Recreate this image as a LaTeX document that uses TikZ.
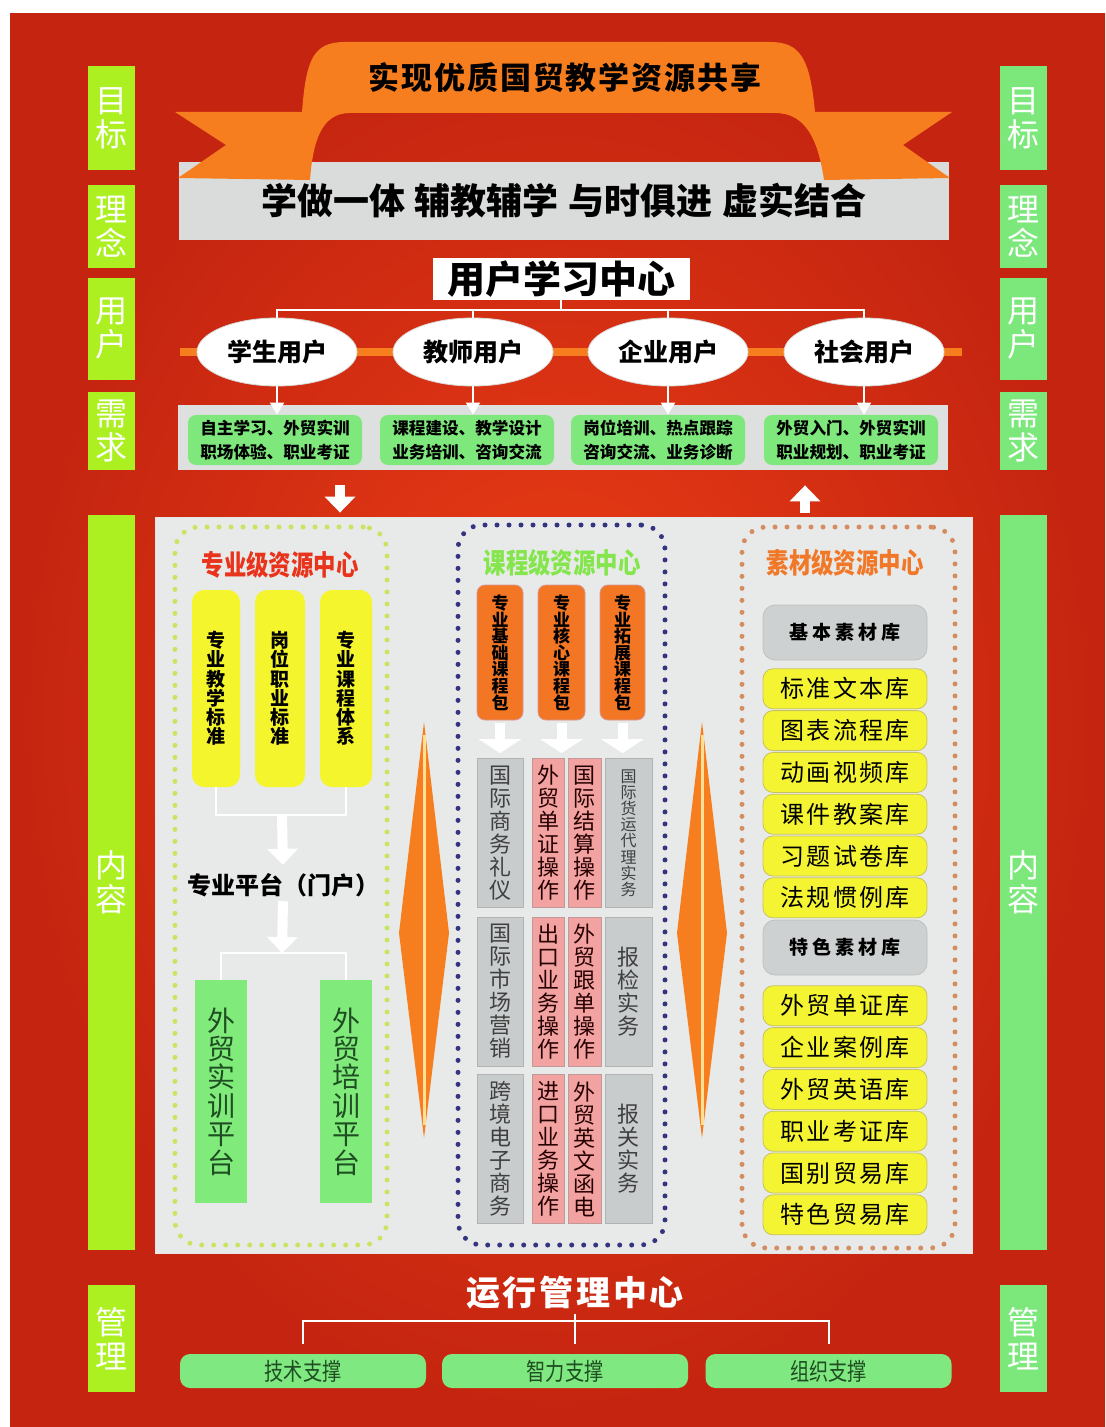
\documentclass[tikz,border=0pt]{standalone}
\usepackage{fontspec}
\setmainfont{Noto Sans CJK SC}
\newfontfamily\narrowfont[FakeStretch=0.8]{Noto Sans CJK SC}
\usepackage{xcolor}
\usepackage{tikz}
\usetikzlibrary{arrows.meta,positioning,shapes.geometric}
\definecolor{bgout}{RGB}{196,36,16}
\definecolor{bgin}{RGB}{236,62,22}
\definecolor{sidegreenL}{RGB}{172,240,34}
\definecolor{sidegreenR}{RGB}{124,232,124}
\definecolor{ribbonorange}{RGB}{246,126,30}
\definecolor{spindlecream}{RGB}{255,222,150}
\definecolor{mottogray}{RGB}{218,220,220}
\definecolor{needgreen}{RGB}{126,232,124}
\definecolor{panelgray}{RGB}{222,224,224}
\definecolor{contentgray}{RGB}{232,234,233}
\definecolor{stdyellow}{RGB}{245,245,45}
\definecolor{traingreen}{RGB}{128,234,122}
\definecolor{pkgorange}{RGB}{242,118,36}
\definecolor{cellgray}{RGB}{200,204,204}
\definecolor{cellpink}{RGB}{242,162,160}
\definecolor{libyellow}{RGB}{244,244,50}
\definecolor{libgray}{RGB}{206,209,209}
\definecolor{dotlime}{RGB}{200,228,96}
\definecolor{dotnavy}{RGB}{52,52,128}
\definecolor{dotbrown}{RGB}{212,140,96}
\definecolor{titlered}{RGB}{232,52,28}
\definecolor{titlegreen}{RGB}{132,230,76}
\definecolor{titleorange}{RGB}{240,120,40}
\definecolor{darkgreen}{RGB}{30,78,34}
\definecolor{supportgreen}{RGB}{128,232,128}
\tikzset{
  sidebar/.style={
    rectangle,
    minimum width=23.5pt,
    inner sep=0pt,
    align=center,
    text=white,
    font=\fontsize{16}{17}\selectfont
  },
  leftbar/.style={sidebar, fill=sidegreenL},
  rightbar/.style={sidebar, fill=sidegreenR},
  mottobox/.style={
    rectangle,
    fill=mottogray,
    minimum width=385pt,
    minimum height=39pt,
    inner sep=0pt,
    font=\fontsize{18}{20}\selectfont\bfseries
  },
  goaltext/.style={
    font=\fontsize{15.5}{17}\selectfont\bfseries\addfontfeature{LetterSpace=6}
  },
  ucbox/.style={
    rectangle,
    fill=white,
    minimum width=128.5pt,
    minimum height=21pt,
    inner sep=0pt,
    font=\fontsize{19}{20}\selectfont\bfseries
  },
  userellipse/.style={
    ellipse,
    fill=white,
    draw=black!15,
    minimum width=80pt,
    minimum height=34pt,
    inner sep=0pt,
    font=\fontsize{12.5}{14}\selectfont\bfseries
  },
  needpanel/.style={
    rectangle,
    fill=panelgray,
    minimum width=385pt,
    minimum height=32.5pt,
    inner sep=0pt
  },
  needbox/.style={
    rectangle,
    rounded corners=4pt,
    fill=needgreen,
    minimum width=87pt,
    minimum height=25pt,
    inner sep=0pt,
    align=center,
    font=\fontsize{8.3}{12}\selectfont\bfseries
  },
  contentpanel/.style={
    rectangle,
    fill=contentgray,
    draw=white!90!black,
    minimum width=408.5pt,
    minimum height=368pt,
    inner sep=0pt
  },
  treeline/.style={draw=white, line width=1pt},
  thinarrow/.style={draw=white, line width=1pt, -{Triangle[length=6pt,width=7pt]}},
  fatarrow/.style={draw=white, line width=5pt, -{Triangle[length=8pt,width=15pt]}},
  pkgarrow/.style={draw=white, line width=5pt, -{Triangle[length=7pt,width=21pt]}},
  groupbox/.style={
    rectangle,
    rounded corners=12pt,
    line width=2.5pt,
    dash pattern=on 0pt off 6pt,
    line cap=round,
    inner sep=0pt
  },
  grouptitle/.style={font=\narrowfont\fontsize{14}{16}\selectfont\bfseries},
  stdbar/.style={
    rectangle,
    rounded corners=6pt,
    fill=stdyellow,
    minimum height=98.5pt,
    inner sep=0pt,
    align=center,
    font=\fontsize{9.5}{9.6}\selectfont\bfseries
  },
  portaltext/.style={inner sep=2pt, font=\fontsize{12}{14}\selectfont\bfseries},
  trainbar/.style={
    rectangle,
    fill=traingreen,
    minimum width=26pt,
    minimum height=111.5pt,
    inner sep=0pt,
    align=center,
    text=darkgreen,
    font=\fontsize{14}{14.2}\selectfont
  },
  pkgbar/.style={
    rectangle,
    rounded corners=4pt,
    fill=pkgorange,
    draw=red!60!black!40,
    minimum height=67.5pt,
    inner sep=0pt,
    align=center,
    font=\fontsize{8.5}{8.3}\selectfont\bfseries
  },
  graycell/.style={
    rectangle,
    fill=cellgray,
    draw=black!30,
    minimum width=23.5pt,
    minimum height=74.5pt,
    inner sep=0pt,
    align=center,
    text=black!75,
    font=\fontsize{11}{11.5}\selectfont
  },
  pinkcell/.style={graycell, fill=cellpink, draw=red!40!black!40, minimum width=16.5pt, text=black!85!red},
  libhead/.style={
    rectangle,
    rounded corners=6pt,
    fill=libgray,
    draw=black!25,
    minimum width=82pt,
    minimum height=27.5pt,
    inner sep=0pt,
    font=\fontsize{9.5}{11}\selectfont\bfseries\addfontfeature{LetterSpace=20}
  },
  libitem/.style={
    rectangle,
    rounded corners=5pt,
    fill=libyellow,
    draw=olive!50,
    minimum width=82pt,
    minimum height=20pt,
    inner sep=0pt,
    font=\fontsize{12}{13}\selectfont\addfontfeature{LetterSpace=10}
  },
  mgmttext/.style={
    text=white,
    inner sep=2pt,
    font=\fontsize{17}{19}\selectfont\bfseries\addfontfeature{LetterSpace=8}
  },
  supportbox/.style={
    rectangle,
    rounded corners=5pt,
    fill=supportgreen,
    minimum width=123pt,
    minimum height=17pt,
    inner sep=0pt,
    text=darkgreen,
    font=\narrowfont\fontsize{12}{13}\selectfont
  }
}

\begin{document}
\begin{tikzpicture}[x=0.5pt, y=-0.5pt]
\useasboundingbox (0,0) rectangle (1105,1427);
\fill[white] (0,0) rectangle (1105,1427);
\shade[inner color=bgin, outer color=bgout] (10,14) rectangle (1105,1427);

% side labels
\node[leftbar, minimum height=52pt] (goalL) at (111.5,118) {目\\标};
\node[leftbar, minimum height=41.5pt] (ideaL) at (111.5,226.5) {理\\念};
\node[leftbar, minimum height=51pt] (userL) at (111.5,329) {用\\户};
\node[leftbar, minimum height=39pt] (needL) at (111.5,431) {需\\求};
\node[leftbar, minimum height=367.5pt] (contL) at (111.5,882.5) {内\\容};
\node[leftbar, minimum height=53.5pt] (mgmtL) at (111.5,1338.5) {管\\理};
\node[rightbar, minimum height=52pt] (goalR) at (1023.5,118) {目\\标};
\node[rightbar, minimum height=41.5pt] (ideaR) at (1023.5,226.5) {理\\念};
\node[rightbar, minimum height=51pt] (userR) at (1023.5,329) {用\\户};
\node[rightbar, minimum height=39pt] (needR) at (1023.5,431) {需\\求};
\node[rightbar, minimum height=367.5pt] (contR) at (1023.5,882.5) {内\\容};
\node[rightbar, minimum height=53.5pt] (mgmtR) at (1023.5,1338.5) {管\\理};

% goal ribbon and motto
\node[mottobox] (motto) at (564,201) {学做一体\hskip5pt 辅教辅学\hskip5pt 与时俱进\hskip5pt 虚实结合};
\fill[ribbonorange] (175,112) -- (302,112) .. controls (306,58) and (314,42) .. (345,42)
  -- (770,42) .. controls (800,42) and (810,58) .. (815,112) -- (952,112) -- (903,145)
  -- (950,178) -- (824,180) .. controls (818,140) and (806,113) .. (775,113)
  -- (350,113) .. controls (322,113) and (313,140) .. (310,180) -- (178,178) -- (226,145) -- cycle;
\node[goaltext] (goal) at (565,78) {实现优质国贸教学资源共享};

% users
\node[ucbox] (uc) at (561,279) {用户学习中心};
\coordinate (uhub) at (561,310);
\fill[ribbonorange] (180,348) rectangle (962,356);
\node[userellipse] (student) at (277,352) {学生用户};
\node[userellipse] (teacher) at (473,352) {教师用户};
\node[userellipse] (firm) at (668,352) {企业用户};
\node[userellipse] (public) at (864,352) {社会用户};
\draw[treeline] (uc.south) -- (uhub);
\draw[treeline] (student.north) |- (uhub) -| (public.north);
\draw[treeline] (teacher.north) -- (teacher.north |- uhub);
\draw[treeline] (firm.north) -- (firm.north |- uhub);

% needs
\node[needpanel] (needs) at (563,437.5) {};
\node[needbox] (stuneed) at (275,440) {自主学习、外贸实训\\职场体验、职业考证};
\node[needbox] (teaneed) at (467,440) {课程建设、教学设计\\业务培训、咨询交流};
\node[needbox] (firmneed) at (658,440) {岗位培训、热点跟踪\\咨询交流、业务诊断};
\node[needbox] (pubneed) at (851,440) {外贸入门、外贸实训\\职业规划、职业考证};
\draw[thinarrow] (student.south) -- (student.south |- stuneed.north);
\draw[thinarrow] (teacher.south) -- (teacher.south |- teaneed.north);
\draw[thinarrow] (firm.south) -- (firm.south |- firmneed.north);
\draw[thinarrow] (public.south) -- (public.south |- pubneed.north);

% content
\node[contentpanel] (content) at (563.5,885) {};
\coordinate (downx) at (340,0);
\coordinate (upx) at (805,0);
\draw[fatarrow, shorten <=7.5pt, shorten >=2pt] (needs.south -| downx) -- (content.north -| downx);
\draw[fatarrow, shorten <=2pt, shorten >=7.5pt] (content.north -| upx) -- (needs.south -| upx);

\fill[ribbonorange] (424,722) -- (449,933) -- (424,1138) -- (399,933) -- cycle;
\draw[spindlecream, line width=1.5pt] (424,735) -- (424,1125);
\fill[ribbonorange] (702,722) -- (727,933) -- (702,1138) -- (677,933) -- cycle;
\draw[spindlecream, line width=1.5pt] (702,735) -- (702,1125);

% major-level centre
\node[groupbox, draw=dotlime, minimum width=106pt, minimum height=359pt] (majorgrp) at (281,886) {};
\node[grouptitle, text=titlered] (majortitle) at (280,565) {专业级资源中心};
\node[stdbar, minimum width=24pt] (teachstd) at (216,688.5) {专\\业\\教\\学\\标\\准};
\node[stdbar, minimum width=25pt] (jobstd) at (280,688.5) {岗\\位\\职\\业\\标\\准};
\node[stdbar, minimum width=26pt] (currsys) at (346,688.5) {专\\业\\课\\程\\体\\系};
\coordinate (stdhub) at (282,815);
\draw[treeline] (teachstd.south) |- (stdhub) -| (currsys.south);
\node[portaltext] (portal) at (283,885) {专业平台（门户）};
\draw[fatarrow, shorten >=2pt] (stdhub) -- (portal.north);
\coordinate (portalhub) at (282,953);
\draw[fatarrow] (portal.south) -- (portalhub);
\node[trainbar] (practice) at (221,1091.5) {外\\贸\\实\\训\\平\\台};
\node[trainbar] (training) at (346,1091.5) {外\\贸\\培\\训\\平\\台};
\draw[treeline] (practice.north) |- (portalhub) -| (training.north);

% course-level centre
\node[groupbox, draw=dotnavy, minimum width=103.5pt, minimum height=360pt] (coursegrp) at (561.5,885) {};
\node[grouptitle, text=titlegreen] (coursetitle) at (562,563) {课程级资源中心};
\node[pkgbar, minimum width=23pt] (basepkg) at (500,652.5) {专\\业\\基\\础\\课\\程\\包};
\node[pkgbar, minimum width=23.5pt] (corepkg) at (561.5,652.5) {专\\业\\核\\心\\课\\程\\包};
\node[pkgbar, minimum width=22.5pt] (extpkg) at (622.5,652.5) {专\\业\\拓\\展\\课\\程\\包};
\node[graycell, minimum width=23pt] (etiquette) at (500,833) {国\\际\\商\\务\\礼\\仪};
\node[pinkcell, minimum width=16pt] (docs) at (548,833) {外\\贸\\单\\证\\操\\作};
\node[pinkcell] (settle) at (584.5,833) {国\\际\\结\\算\\操\\作};
\node[graycell, font=\fontsize{8}{8.1}\selectfont] (freight) at (628.5,833) {国\\际\\货\\运\\代\\理\\实\\务};
\node[graycell, minimum width=23pt] (marketing) at (500,991.5) {国\\际\\市\\场\\营\\销};
\node[pinkcell, minimum width=16pt] (export) at (548,991.5) {出\\口\\业\\务\\操\\作};
\node[pinkcell] (tracking) at (584.5,991.5) {外\\贸\\跟\\单\\操\\作};
\node[graycell] (inspect) at (628.5,991.5) {报\\检\\实\\务};
\node[graycell, minimum width=23pt] (ecommerce) at (500,1149) {跨\\境\\电\\子\\商\\务};
\node[pinkcell, minimum width=16pt] (import) at (548,1149) {进\\口\\业\\务\\操\\作};
\node[pinkcell] (letters) at (584.5,1149) {外\\贸\\英\\文\\函\\电};
\node[graycell] (customs) at (628.5,1149) {报\\关\\实\\务};
\draw[pkgarrow, shorten <=1.5pt, shorten >=2.5pt] (basepkg.south) -- (basepkg.south |- etiquette.north);
\draw[pkgarrow, shorten <=1.5pt, shorten >=2.5pt] (corepkg.south) -- (corepkg.south |- docs.north);
\draw[pkgarrow, shorten <=1.5pt, shorten >=2.5pt] (extpkg.south) -- (extpkg.south |- freight.north);

% material-level centre
\node[groupbox, draw=dotbrown, minimum width=106.5pt, minimum height=360.5pt] (mediagrp) at (848.5,887.5) {};
\node[grouptitle, text=titleorange] (mediatitle) at (845,563) {素材级资源中心};
\node[libhead] (basiclib) at (845,632.5) {基本素材库};
\node[libitem, below=4pt of basiclib] (textlib) {标准文本库};
\node[libitem, below=0.5pt of textlib] (chartlib) {图表流程库};
\node[libitem, below=0.5pt of chartlib] (videolib) {动画视频库};
\node[libitem, below=0.5pt of videolib] (planlib) {课件教案库};
\node[libitem, below=0.5pt of planlib] (examlib) {习题试卷库};
\node[libitem, below=0.5pt of examlib] (lawlib) {法规惯例库};
\node[libhead] (speciallib) at (845,947.5) {特色素材库};
\node[libitem, below=5pt of speciallib] (formlib) {外贸单证库};
\node[libitem, below=0.5pt of formlib] (caselib) {企业案例库};
\node[libitem, below=0.5pt of caselib] (englib) {外贸英语库};
\node[libitem, below=0.5pt of englib] (certlib) {职业考证库};
\node[libitem, below=0.5pt of certlib] (countrylib) {国别贸易库};
\node[libitem, below=0.5pt of countrylib] (tradelib) {特色贸易库};

% management
\node[mgmttext] (mgmt) at (575,1293) {运行管理中心};
\node[supportbox] (tech) at (303,1371) {技术支撑};
\node[supportbox] (intel) at (565,1371) {智力支撑};
\node[supportbox] (org) at (828.5,1371) {组织支撑};
\coordinate (mhub) at (576,1321);
\draw[treeline, shorten <=5pt, shorten >=5pt] (tech.north) |- (mhub) -| (org.north);
\draw[treeline, shorten >=5pt] (mgmt.south) -- (mgmt.south |- intel.north);
\end{tikzpicture}
\end{document}
